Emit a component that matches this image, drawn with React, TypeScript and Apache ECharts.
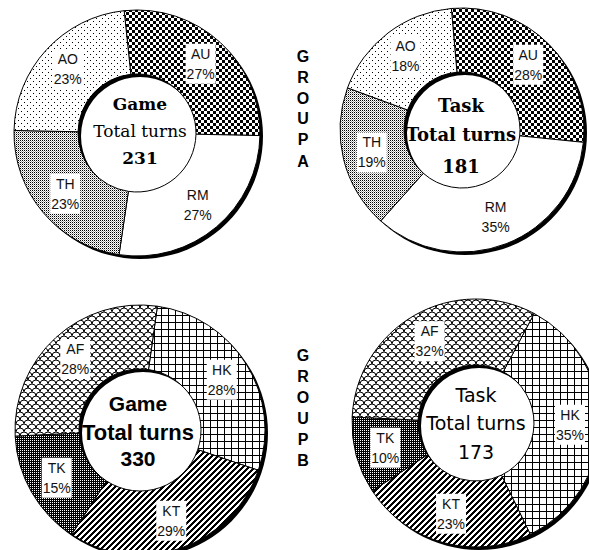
import React, { useEffect, useRef } from 'react';
import * as echarts from 'echarts';

// ---- data ----
const groupANames = ['AU', 'RM', 'TH', 'AO'];
const gameAValues = [27, 27, 23, 23];
const taskAValues = [28, 35, 19, 18];
const groupBNames = ['HK', 'KT', 'TK', 'AF'];
const gameBValues = [28, 29, 15, 28];
const taskBValues = [35, 23, 10, 32];
const totalTurns = [231, 181, 330, 173];
const centerTitles = ['Game', 'Task', 'Game', 'Task'];
const groupALetters = ['G', 'R', 'O', 'U', 'P', 'A'];
const groupBLetters = ['G', 'R', 'O', 'U', 'P', 'B'];

function pat(w: number, h: number, draw: (c: CanvasRenderingContext2D) => void) {
  const cv = document.createElement('canvas');
  cv.width = w;
  cv.height = h;
  const c = cv.getContext('2d') as CanvasRenderingContext2D;
  c.fillStyle = '#ffffff';
  c.fillRect(0, 0, w, h);
  c.fillStyle = '#000000';
  c.strokeStyle = '#000000';
  draw(c);
  return { image: cv, repeat: 'repeat', imageWidth: w, imageHeight: h } as any;
}

function buildPatterns() {
  const checker = pat(6, 6, (c) => {
    c.fillRect(0, 0, 3, 3);
    c.fillRect(3, 3, 3, 3);
  });
  const sparseDots = pat(6, 6, (c) => {
    c.fillRect(0, 0, 1, 1);
    c.fillRect(3, 3, 1, 1);
  });
  const greyStipple = pat(2, 2, (c) => {
    c.fillRect(0, 0, 1, 1);
    c.fillStyle = '#a8a8a8';
    c.fillRect(1, 1, 1, 1);
  });
  const grid = pat(7, 7, (c) => {
    c.fillRect(0, 0, 7, 1);
    c.fillRect(0, 0, 1, 7);
  });
  const stripes = pat(6, 6, (c) => {
    for (let x = 0; x < 6; x++)
      for (let y = 0; y < 6; y++) if ((x + y) % 6 < 3) c.fillRect(x, y, 1, 1);
  });
  const darkStipple = pat(2, 2, (c) => {
    c.fillRect(0, 0, 2, 2);
    c.fillStyle = '#ffffff';
    c.fillRect(0, 0, 1, 1);
  });
  const scales = pat(8, 8, (c) => {
    c.lineWidth = 1;
    const arcs: [number, number][] = [[0, 4], [8, 4], [4, 8], [4, 0]];
    arcs.forEach(([x, y]) => {
      c.beginPath();
      c.arc(x, y, 4, Math.PI, 2 * Math.PI);
      c.stroke();
    });
  });
  return {
    AU: checker,
    RM: '#ffffff',
    TH: greyStipple,
    AO: sparseDots,
    HK: grid,
    KT: stripes,
    TK: darkStipple,
    AF: scales,
  } as Record<string, any>;
}

function ringSeries(
  cx: number,
  cy: number,
  r0: number,
  r1: number,
  startAngle: number,
  names: string[],
  values: number[],
  fills: Record<string, any>
) {
  return [
    {
      type: 'pie',
      silent: true,
      center: [cx + 3, cy + 3],
      radius: [r0, r1],
      label: { show: false },
      labelLine: { show: false },
      itemStyle: { color: '#000000', borderWidth: 0 },
      data: [{ value: 1, name: '' }],
      z: 1,
    },
    {
      type: 'pie',
      silent: true,
      center: [cx, cy],
      radius: [r0, r1],
      startAngle,
      clockwise: true,
      itemStyle: { borderColor: '#000000', borderWidth: 1 },
      label: {
        show: true,
        position: 'inside',
        formatter: (p: any) => `${p.name}\n${p.value}%`,
        fontFamily: 'Liberation Sans, Arial, sans-serif',
        fontSize: 14,
        lineHeight: 20,
        color: '#111111',
        backgroundColor: '#ffffff',
        padding: [0, 1],
      },
      labelLine: { show: false },
      data: names.map((n, i) => ({ name: n, value: values[i], itemStyle: { color: fills[n] } })),
      z: 2,
    },
  ];
}

function txt(x: number, y: number, text: string, font: string) {
  return {
    type: 'text',
    x,
    y,
    z: 100,
    style: {
      text,
      font,
      fill: '#000000',
      textAlign: 'center',
      textVerticalAlign: 'middle',
      align: 'center',
      verticalAlign: 'middle',
    },
  };
}

export default function App() {
  const ref = useRef<HTMLDivElement>(null);
  useEffect(() => {
    if (!ref.current) return;
    const chart = echarts.init(ref.current, undefined, { renderer: 'svg' });
    const fills = buildPatterns();

    const series = [
      ...ringSeries(137, 133, 59, 123, 96, groupANames, gameAValues, fills),
      ...ringSeries(462, 130, 58, 122, 95, groupANames, taskAValues, fills),
      ...ringSeries(140, 430, 61, 125, 82, groupBNames, gameBValues, fills),
      ...ringSeries(476, 423, 58, 124, 62, groupBNames, taskBValues, fills),
    ];

    const serifB = 'bold 17px "DejaVu Serif"';
    const serifN = '17px "DejaVu Serif"';
    const graphics: any[] = [
      txt(140, 104, centerTitles[0], serifB),
      txt(140, 131, 'Total turns', serifN),
      txt(140, 158, String(totalTurns[0]), serifB),
      txt(461, 105, centerTitles[1], 'bold 18px "DejaVu Serif"'),
      txt(461, 134, 'Total turns', 'bold 18px "DejaVu Serif"'),
      txt(461, 166, String(totalTurns[1]), 'bold 18px "DejaVu Serif"'),
      txt(138, 403, centerTitles[2], 'bold 21px "Liberation Sans"'),
      txt(138, 432, 'Total turns', 'bold 22px "Liberation Sans"'),
      txt(138, 458, String(totalTurns[2]), 'bold 21px "Liberation Sans"'),
      txt(476, 395, centerTitles[3], '19px "DejaVu Sans"'),
      txt(476, 423, 'Total turns', '19px "DejaVu Sans"'),
      txt(476, 452, String(totalTurns[3]), '19px "DejaVu Sans"'),
    ];
    const aY = [56, 77, 98, 118, 139, 161];
    const bY = [355, 376, 397, 418, 439, 460];
    groupALetters.forEach((l, i) => graphics.push(txt(303, aY[i], l, 'bold 16px "Liberation Sans"')));
    groupBLetters.forEach((l, i) => graphics.push(txt(303, bY[i], l, 'bold 16px "Liberation Sans"')));

    chart.setOption({
      animation: false,
      backgroundColor: '#ffffff',
      series,
      graphic: graphics,
    });
    return () => chart.dispose();
  }, []);
  return (
    <div
      ref={ref}
      style={{ position: 'absolute', left: 0, top: 0, width: 589, height: 550 }}
    />
  );
}
